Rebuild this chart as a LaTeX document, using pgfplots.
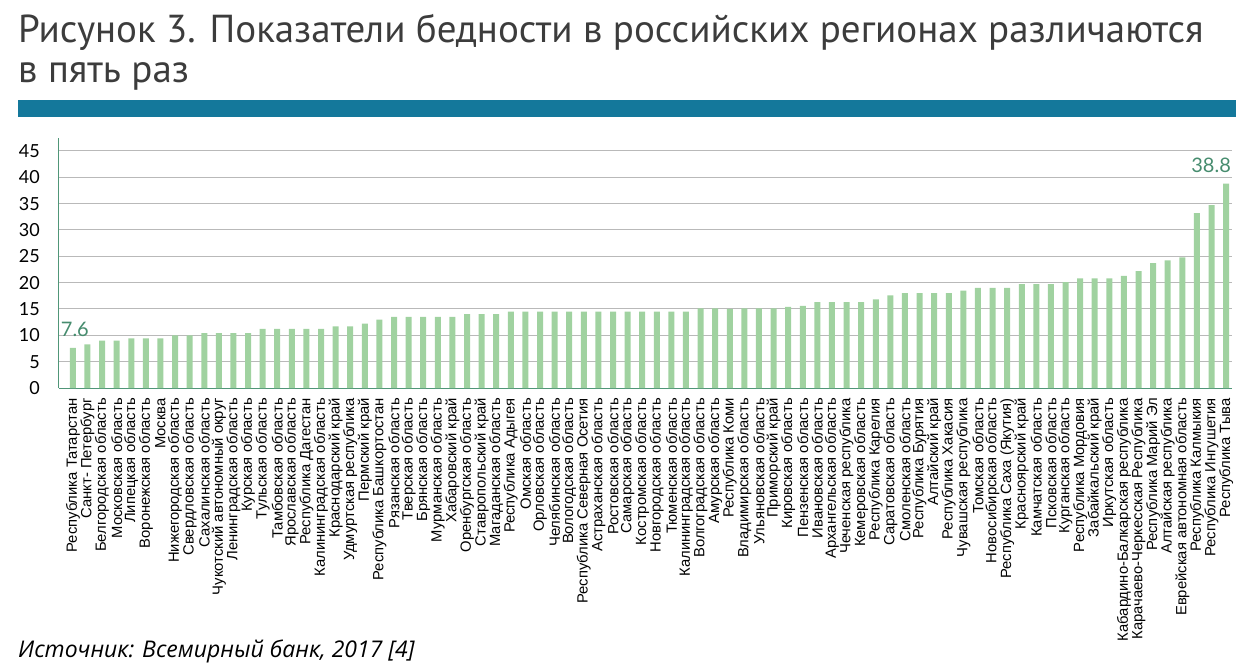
\documentclass[border=0pt]{standalone}
\usepackage{fontspec}
\setmainfont{Liberation Sans}
\newfontfamily\titlefont{PT Sans}
\newfontfamily\numfont{Lato}
\newfontfamily\srcfont{Open Sans}
\usepackage{pgfplots}
\pgfplotsset{compat=1.18}
\definecolor{barg}{RGB}{160,210,160}
\definecolor{axisg}{RGB}{80,150,120}
\definecolor{labg}{RGB}{70,140,110}
\definecolor{band}{RGB}{20,120,155}
\definecolor{titleg}{RGB}{60,60,60}
\begin{document}
\begin{tikzpicture}
\begin{axis}[
    scale only axis, width=1173pt, height=250.3pt,
    xmin=0.05, xmax=80.4, ymin=0, ymax=47.5,
    axis lines*=left,
    axis line style={draw=axisg, line width=1pt},
    ytick={0,5,...,45},
    ymajorgrids, grid style={draw=gray!55, line width=1pt},
    major tick length=0pt,
    /pgf/number format/assume math mode=true,
    yticklabel style={font=\numfont\fontsize{18}{20}\selectfont, inner sep=0pt, anchor=east},
    yticklabel shift=19pt,
    xtick={1,...,80},
    xticklabel style={rotate=90, anchor=east, inner sep=0pt, font=\fontsize{14.8}{15}\selectfont},
    xticklabel shift=10pt,
    xticklabels={
      {Республика Татарстан},{Санкт- Петербург},{Белгородская область},{Московская область},
      {Липецкая область},{Воронежская область},{Москва},{Нижегородская область},
      {Свердловская область},{Сахалинская область},{Чукотский автономный округ},{Ленинградская область},
      {Курская область},{Тульская область},{Тамбовская область},{Ярославская область},
      {Республика Дагестан},{Калининградская область},{Краснодарский край},{Удмуртская республика},
      {Пермский край},{Республика Башкортостан},{Рязанская область},{Тверская область},
      {Брянская область},{Мурманская область},{Хабаровский край},{Оренбургская область},
      {Ставропольский край},{Магаданская область},{Республика  Адыгея},{Омская область},
      {Орловская область},{Челябинская область},{Вологодская область},{Республика Северная Осетия},
      {Астраханская область},{Ростовская область},{Самарская область},{Костромская область},
      {Новгородская область},{Тюменская область},{Калининградская область},{Волгоградская область},
      {Амурская область},{Республика Коми},{Владимирская область},{Ульяновская область},
      {Приморский край},{Кировская область},{Пензенская область},{Ивановская область},
      {Архангельская область},{Чеченская республика},{Кемеровская область},{Республика Карелия},
      {Саратовская область},{Смоленская область},{Республика Бурятия},{Алтайский край},
      {Республика Хакасия},{Чувашская республика},{Томская область},{Новосибирская область},
      {Республика Саха (Якутия)},{Красноярский край},{Камчатская область},{Псковская область},
      {Курганская область},{Республика Мордовия},{Забайкальский край},{Иркутская область},
      {Кабардино-Балкарская республика},{Карачаево-Черкесская Республика},{Республика Марий Эл},{Алтайская республика},
      {Еврейская автономная область},{Республика Калмыкия},{Республика Ингушетия},{Республика Тыва}
    },
]
\addplot[ybar, bar width=6pt, fill=barg, draw=none] coordinates {
  (1,7.6) (2,8.3) (3,9.0) (4,9.0) (5,9.4) (6,9.4) (7,9.4) (8,10.0)
  (9,10.0) (10,10.4) (11,10.4) (12,10.4) (13,10.4) (14,11.2) (15,11.2) (16,11.2)
  (17,11.2) (18,11.2) (19,11.7) (20,11.7) (21,12.2) (22,13.0) (23,13.5) (24,13.5)
  (25,13.5) (26,13.5) (27,13.5) (28,14.0) (29,14.0) (30,14.0) (31,14.5) (32,14.5)
  (33,14.5) (34,14.5) (35,14.5) (36,14.5) (37,14.5) (38,14.5) (39,14.5) (40,14.5)
  (41,14.5) (42,14.5) (43,14.5) (44,15.1) (45,15.1) (46,15.0) (47,15.1) (48,15.1)
  (49,15.1) (50,15.4) (51,15.6) (52,16.3) (53,16.3) (54,16.3) (55,16.3) (56,16.8)
  (57,17.6) (58,18.0) (59,18.0) (60,18.0) (61,18.0) (62,18.5) (63,19.0) (64,19.0)
  (65,19.0) (66,19.7) (67,19.7) (68,19.7) (69,20.1) (70,20.8) (71,20.8) (72,20.8)
  (73,21.3) (74,22.2) (75,23.7) (76,24.2) (77,24.8) (78,33.2) (79,34.7) (80,38.8)
};
\addplot[only marks, mark=none, point meta=explicit symbolic, nodes near coords,
  nodes near coords style={anchor=center, yshift=19pt, xshift=2pt, text=labg,
    font=\numfont\fontsize{20}{22}\selectfont}]
  coordinates {(1,7.6) [7.6]};
\addplot[only marks, mark=none, point meta=explicit symbolic, nodes near coords,
  nodes near coords style={anchor=center, yshift=18pt, xshift=-15pt, text=labg,
    font=\numfont\fontsize{20}{22}\selectfont}]
  coordinates {(80,38.8) [38.8]};
\end{axis}
% page frame and texts, placed relative to the axis corner (59px, 388px in the image)
\begin{scope}[shift={(-59pt,-274pt)}]
\useasboundingbox (0pt,0pt) rectangle (1244pt,662pt);
\node[anchor=base west, inner sep=0, text=titleg] at (18pt,619pt)
  {\titlefont\fontsize{39}{41}\selectfont Рисунок 3. Показатели бедности в российских регионах различаются};
\node[anchor=base west, inner sep=0, text=titleg] at (18pt,579pt)
  {\titlefont\fontsize{39}{41}\selectfont в пять раз};
\fill[band] (18pt,545pt) rectangle (1236pt,562pt);
\node[anchor=base west, inner sep=0] at (18pt,5pt)
  {\srcfont\itshape\fontsize{23}{25}\selectfont Источник: Всемирный банк, 2017 [4]};
\end{scope}
\end{tikzpicture}
\end{document}
